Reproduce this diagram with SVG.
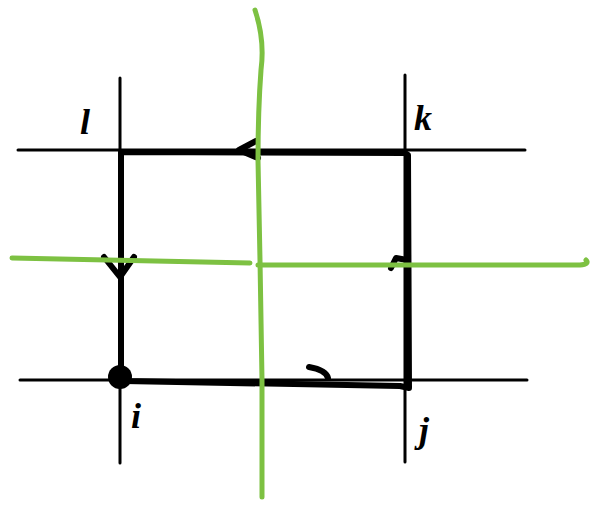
<svg xmlns="http://www.w3.org/2000/svg" width="610" height="508" viewBox="0 0 610 508">
<style>
.thin{stroke:#000;stroke-width:3;fill:none;stroke-linecap:round}
.thick{stroke:#000;stroke-width:6;fill:none;stroke-linecap:round;stroke-linejoin:round}
.green{stroke:#7dc142;stroke-width:5;fill:none;stroke-linecap:round;stroke-linejoin:round}
.lbl{font-family:"Liberation Serif",serif;font-style:italic;font-weight:bold;font-size:36px;fill:#000}
</style>
<rect width="610" height="508" fill="#fff"/>
<g id="grid">
<path class="thin" d="M18 150 L525 150"/>
<path class="thin" d="M20 380 L527 380"/>
<path class="thin" d="M120 78 L120 463"/>
<path class="thin" d="M405 75 L405 462"/>
</g>
<g id="connectors">
<path class="thick" d="M121 152 L405 153 L408 155 L409 388 L400 386 L124 381 L121 378 L121 152"/>
<path class="thick" d="M256 141 L239 150 L258 158"/>
<path class="thick" d="M104 257 L120 277 L134 257"/>
<path class="thick" d="M391 268 L396 258 L407 260"/>
<path class="thick" d="M309 367 Q326 370 328 378"/>
</g>
<g id="green-lines">
<path class="green" d="M255 10 Q265 40 261 70 Q258 110 258 160 L260 260 L262 380 L262 497"/>
<path class="green" d="M12 258 L250 263 M258 265 L580 265 Q590 264 586 260"/>
</g>
<g id="node-i">
<circle cx="120" cy="377" r="12" fill="#000"/>
<text class="lbl" x="131" y="428">i</text>
</g>
<g id="node-j">
<text class="lbl" x="419" y="442">j</text>
</g>
<g id="node-k">
<text class="lbl" x="414" y="130">k</text>
</g>
<g id="node-l">
<text class="lbl" x="80" y="134">l</text>
</g>
</svg>
